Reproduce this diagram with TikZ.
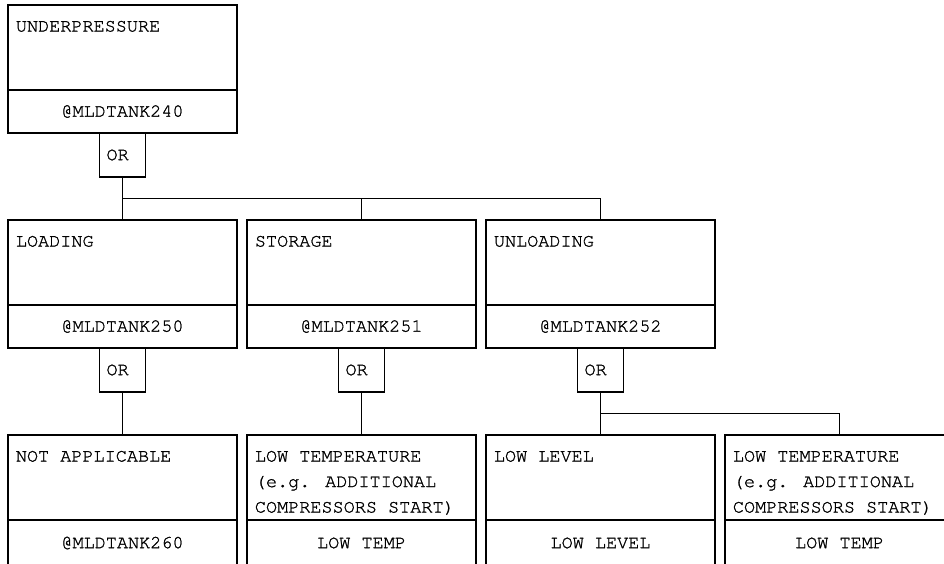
\documentclass[tikz,border=0pt]{standalone}
\usepackage{fontspec}
\newfontfamily\courfam[FakeBold=1.2]{TeX Gyre Cursor}
\newcommand\diafont{\courfam\fontsize{18.5}{25.5}\selectfont}
\usetikzlibrary{calc}
\begin{document}
\begin{tikzpicture}[x=1pt,y=-1pt,line width=1.8pt,
  upper/.style={draw, minimum width=229pt, minimum height=85pt, anchor=north west, inner sep=0pt, outer sep=0pt},
  lower/.style={draw, minimum width=229pt, minimum height=43pt, anchor=north, inner sep=0pt, outer sep=0pt, font=\diafont},
  lowercut/.style={lower, minimum height=46pt},
  title/.style={anchor=north west, inner sep=0pt, align=left, font=\diafont},
  gate/.style={draw, minimum height=44pt, text width=32pt, inner xsep=7pt, inner ysep=0pt, outer sep=0pt, align=left, anchor=north, font=\diafont},
  wire/.style={line width=1.8pt}]
\useasboundingbox (0,0) rectangle (944,563);
\clip (0,0) rectangle (944,563);
% level 1
\node[upper] (u0) at (8,5) {};
\node[lower] (l0) at (u0.south) {@MLDTANK240};
\node[title] (t0) at ([shift={(7,15)}]u0.north west) {UNDERPRESSURE};
\node[gate] (g0) at (l0.south) {OR};
% level 2
\node[upper] (u1) at (8,220) {};
\node[lower] (l1) at (u1.south) {@MLDTANK250};
\node[title] (t1) at ([shift={(7,15)}]u1.north west) {LOADING};
\node[gate] (g1) at (l1.south) {OR};
\node[upper] (u2) at (247,220) {};
\node[lower] (l2) at (u2.south) {@MLDTANK251};
\node[title] (t2) at ([shift={(7,15)}]u2.north west) {STORAGE};
\node[gate] (g2) at (l2.south) {OR};
\node[upper] (u3) at (486,220) {};
\node[lower] (l3) at (u3.south) {@MLDTANK252};
\node[title] (t3) at ([shift={(7,15)}]u3.north west) {UNLOADING};
\node[gate] (g3) at (l3.south) {OR};
% level 3
\node[upper] (u4) at (8,435) {};
\node[lowercut] (l4) at (u4.south) {@MLDTANK260};
\node[title] (t4) at ([shift={(7,15)}]u4.north west) {NOT APPLICABLE};
\node[upper] (u5) at (247,435) {};
\node[lowercut] (l5) at (u5.south) {LOW TEMP};
\node[title] (t5) at ([shift={(7,15)}]u5.north west) {LOW TEMPERATURE\\(e.g. ADDITIONAL\\COMPRESSORS START)};
\node[upper] (u6) at (486,435) {};
\node[lowercut] (l6) at (u6.south) {LOW LEVEL};
\node[title] (t6) at ([shift={(7,15)}]u6.north west) {LOW LEVEL};
\node[upper] (u7) at (725,435) {};
\node[lowercut] (l7) at (u7.south) {LOW TEMP};
\node[title] (t7) at ([shift={(7,15)}]u7.north west) {LOW TEMPERATURE\\(e.g. ADDITIONAL\\COMPRESSORS START)};
% connectors
\coordinate (b0) at ($(g0.south)!0.5!(u1.north)$);
\draw[wire] (g0.south) -- (u1.north);
\draw[wire] (b0) -| (u2.north);
\draw[wire] (b0) -| (u3.north);
\draw[wire] (g1.south) -- (u4.north);
\draw[wire] (g2.south) -- (u5.north);
\coordinate (b3) at ($(g3.south)!0.5!(u6.north)$);
\draw[wire] (g3.south) -- (u6.north);
\draw[wire] (b3) -| (u7.north);
\end{tikzpicture}
\end{document}
